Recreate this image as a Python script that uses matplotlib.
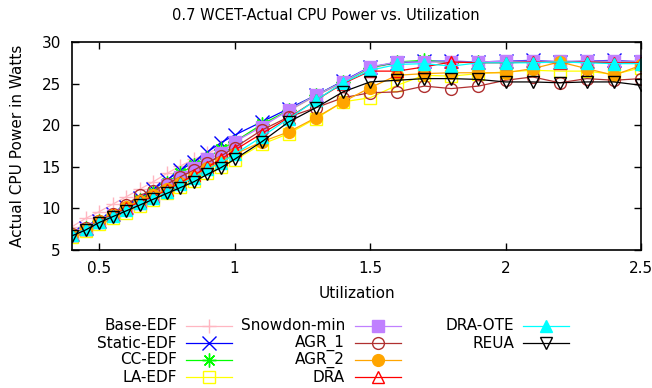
import matplotlib.pyplot as plt
from matplotlib.lines import Line2D

# utilization levels (finer steps below 1.0)
util = [0.4, 0.45, 0.5, 0.55, 0.6, 0.65, 0.7, 0.75, 0.8, 0.85, 0.9, 0.95, 1.0,
        1.1, 1.2, 1.3, 1.4, 1.5, 1.6, 1.7, 1.8, 1.9, 2.0, 2.1, 2.2, 2.3, 2.4, 2.5]

base_edf = [7.8, 8.8, 9.6, 10.5, 11.4, 12.3, 13.2, 14.2, 15.1, 15.9, 16.6, 17.4, 18.0,
            20.0, 21.7, 23.5, 25.1, 26.8, 27.5, 27.6, 27.6, 27.6, 27.6, 27.6, 27.6, 27.6, 27.6, 27.6]
static_edf = [6.9, 7.6, 8.5, 9.3, 10.2, 11.2, 12.3, 13.4, 14.6, 15.6, 16.8, 17.9, 18.8,
              20.4, 22.0, 23.6, 25.3, 27.0, 27.5, 27.7, 27.7, 27.6, 27.7, 27.8, 27.6, 27.7, 27.8, 27.6]
cc_edf = [6.9, 7.6, 8.5, 9.2, 10.1, 11.0, 12.0, 13.1, 14.2, 15.2, 16.1, 17.1, 18.0,
          20.1, 21.8, 23.6, 25.2, 26.9, 27.6, 27.8, 27.5, 27.6, 27.6, 27.6, 27.6, 27.6, 27.6, 27.6]
la_edf = [6.6, 7.3, 8.1, 8.8, 9.5, 10.3, 11.0, 11.8, 12.6, 13.3, 14.2, 15.0, 15.8,
          17.7, 19.0, 20.8, 22.8, 23.3, 24.8, 26.0, 25.9, 26.2, 26.4, 26.6, 26.5, 26.5, 26.1, 26.9]
snowdon_min = [6.8, 7.5, 8.4, 9.2, 9.9, 10.7, 11.5, 12.8, 13.8, 14.9, 15.9, 16.6, 18.0,
               19.8, 21.8, 23.6, 25.2, 27.0, 27.6, 27.6, 27.6, 27.6, 27.7, 27.7, 27.7, 27.7, 27.7, 27.7]
agr_1 = [6.9, 7.6, 8.5, 9.3, 10.4, 11.6, 12.1, 12.9, 13.8, 14.6, 15.5, 16.3, 17.3,
         19.4, 21.0, 22.1, 23.3, 23.9, 24.0, 24.7, 24.4, 24.7, 25.4, 25.8, 25.1, 25.6, 25.4, 25.6]
agr_2 = [6.8, 7.5, 8.5, 9.2, 10.2, 10.9, 11.6, 12.3, 13.0, 13.8, 14.8, 15.6, 16.5,
         18.0, 19.2, 20.9, 22.8, 24.5, 26.0, 26.2, 26.3, 26.3, 26.3, 26.8, 27.6, 26.8, 26.0, 27.2]
dra = [6.8, 7.5, 8.5, 9.2, 10.0, 10.8, 11.4, 12.2, 13.1, 14.0, 15.0, 15.9, 17.0,
       19.0, 20.9, 23.0, 25.0, 26.5, 26.5, 27.0, 27.6, 27.5, 27.5, 27.6, 27.5, 27.6, 27.5, 27.5]
dra_ote = [6.8, 7.5, 8.4, 9.1, 9.8, 10.6, 11.2, 12.0, 12.9, 13.7, 14.7, 15.5, 16.5,
           18.6, 20.8, 23.0, 25.1, 26.6, 27.3, 27.4, 27.1, 27.5, 27.5, 27.5, 27.6, 27.5, 27.4, 27.4]
reua = [6.7, 7.4, 8.3, 9.0, 9.7, 10.4, 11.1, 11.8, 12.5, 13.2, 14.1, 14.9, 15.9,
        18.0, 20.4, 22.1, 24.0, 25.2, 25.4, 25.6, 25.6, 25.5, 25.2, 25.2, 25.1, 25.2, 25.2, 24.8]

# name, values, colour, marker, filled
series = [
    ("Base-EDF", base_edf, "#ffb6c1", "+", True),
    ("Static-EDF", static_edf, "#0000ff", "x", True),
    ("CC-EDF", cc_edf, "#00ff00", (8, 2, 0), True),
    ("LA-EDF", la_edf, "#ffff00", "s", False),
    ("Snowdon-min", snowdon_min, "#c080ff", "s", True),
    ("AGR_1", agr_1, "#b03030", "o", False),
    ("AGR_2", agr_2, "#ffa500", "o", True),
    ("DRA", dra, "#ff0000", "^", False),
    ("DRA-OTE", dra_ote, "#00ffff", "^", True),
    ("REUA", reua, "#000000", "v", False),
]

plt.rcParams['font.family'] = 'DejaVu Sans'
fig = plt.figure(figsize=(6.52, 3.88), dpi=100)
ax = fig.add_axes([72 / 652, 1 - 250 / 388, (641 - 72) / 652, (250 - 42) / 388])


def style(color, marker, filled):
    kw = dict(color=color, marker=marker, lw=0.9, markersize=8.5, markeredgewidth=1.0)
    if marker in ("+", "x", (8, 2, 0)):
        kw["markersize"] = 10
    if not filled:
        kw["markerfacecolor"] = "none"
    return kw


for name, vals, color, marker, filled in series:
    ax.plot(util, vals, **style(color, marker, filled))

ax.set_xlim(0.4, 2.5)
ax.set_ylim(5, 30)
ax.set_xticks([0.5, 1, 1.5, 2, 2.5])
ax.set_xticklabels(["0.5", "1", "1.5", "2", "2.5"])
ax.set_yticks([5, 10, 15, 20, 25, 30])
ax.tick_params(direction="in", top=True, right=True, length=5, width=1, labelsize=11)
ax.tick_params(axis="y", pad=8)
ax.tick_params(axis="x", pad=8)
for sp in ax.spines.values():
    sp.set_linewidth(1.2)

ax.set_xlabel("Utilization", fontsize=11, labelpad=7)
ax.set_ylabel("Actual CPU Power in Watts", fontsize=11, labelpad=12)
fig.text(326 / 652, 1 - 16 / 388, "0.7 WCET-Actual CPU Power vs. Utilization",
         ha="center", va="center", fontsize=10.5)

# key below the plot: label right-aligned, then line sample with marker
key = fig.add_axes([0, 0, 1, 1])
key.set_xlim(0, 652)
key.set_ylim(388, 0)
key.axis("off")
cols = [(177, 186, 232), (345, 355, 401), (514, 523, 569)]
rows = [326, 343, 360, 377]
for i, (name, vals, color, marker, filled) in enumerate(series):
    tx, x0, x1 = cols[i // 4]
    y = rows[i % 4]
    key.text(tx, y, name, ha="right", va="center", fontsize=11)
    key.add_line(Line2D([x0, x1], [y, y], color=color, lw=0.9))
    kw = style(color, marker, filled)
    kw.pop("lw")
    key.add_line(Line2D([(x0 + x1) / 2], [y], linestyle="none", **kw))

fig.savefig("out.png", dpi=100)
